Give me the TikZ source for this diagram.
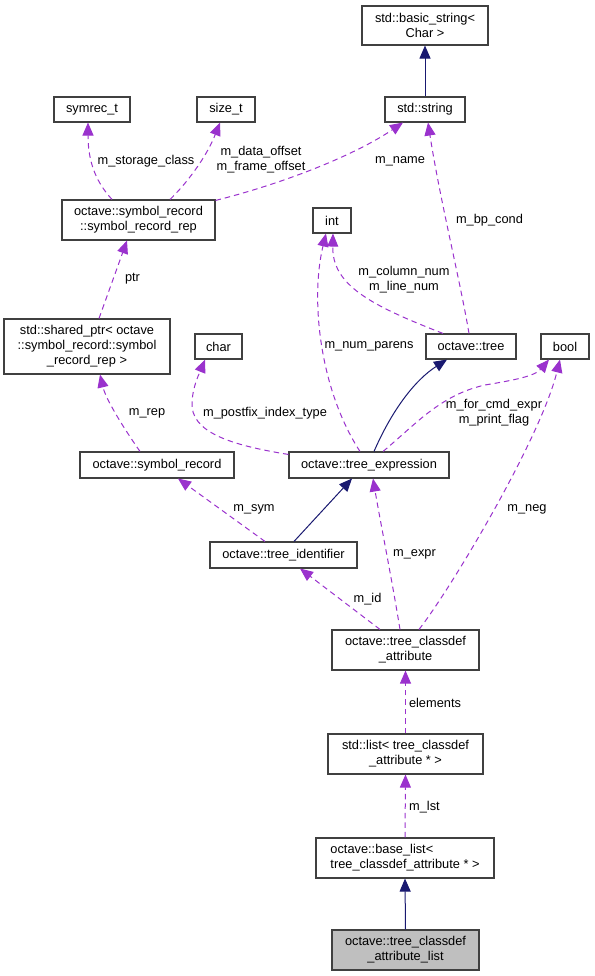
\documentclass[tikz,border=0pt]{standalone}
\usepackage{fontspec}
\setmainfont{Liberation Sans}
\usetikzlibrary{arrows.meta,calc}
\definecolor{edgepurple}{HTML}{9A32CD}
\definecolor{edgenavy}{HTML}{191970}
\definecolor{boxborder}{HTML}{404040}
\definecolor{boxgray}{HTML}{BFBFBF}
\begin{document}
\begin{tikzpicture}[x=1pt, y=-1pt, font=\fontsize{12.8}{15}\selectfont,
  box/.style={draw=boxborder, line width=1.1pt, fill=white, inner sep=0pt, align=center, minimum height=25pt},
  twoline/.style={box, minimum height=40pt},
  uses/.style={draw=edgepurple, line width=1pt, dash pattern=on 5.5pt off 4pt, -{Triangle[length=13pt, width=11pt, fill=edgepurple]}},
  inherits/.style={draw=edgenavy, line width=1pt, -{Triangle[length=13pt, width=11pt, fill=edgenavy]}},
  lbl/.style={inner sep=0pt, align=center}]
\useasboundingbox (0,0) rectangle (594,976);
% classes
\node[box, minimum width=126pt, minimum height=39pt] (bstr) at (425,25.5) {std::basic\_string<\\Char >};
\node[box, minimum width=76pt] (symrect) at (92,109.5) {symrec\_t};
\node[box, minimum width=58pt] (sizet) at (226,109.5) {size\_t};
\node[box, minimum width=80pt] (stdstr) at (425,109.5) {std::string};
\node[twoline, minimum width=153pt] (rep) at (138.5,220) {octave::symbol\_record\\::symbol\_record\_rep};
\node[box, minimum width=38pt] (int) at (332,220.5) {int};
\node[box, minimum width=166pt, minimum height=55pt] (shptr) at (87,346.5) {std::shared\_ptr< octave\\::symbol\_record::symbol\\\_record\_rep >};
\node[box, minimum width=47pt] (char) at (218.5,346.5) {char};
\node[box, minimum width=90pt] (tree) at (471,346.5) {octave::tree};
\node[box, minimum width=48pt] (bool) at (565,346.5) {bool};
\node[box, minimum width=154pt, minimum height=26pt] (symrec) at (157,465) {octave::symbol\_record};
\node[box, minimum width=160pt, minimum height=26pt] (texpr) at (369,465) {octave::tree\_expression};
\node[box, minimum width=147pt, minimum height=26pt] (tid) at (283.5,555) {octave::tree\_identifier};
\node[twoline, minimum width=147pt] (tca) at (405.5,650) {octave::tree\_classdef\\\_attribute};
\node[twoline, minimum width=155pt] (slist) at (405.5,754) {std::list< tree\_classdef\\\_attribute * >};
\node[twoline, minimum width=178pt, align=left] (blist) at (405,858) {octave::base\_list<\\ tree\_classdef\_attribute * >};
\node[twoline, minimum width=147pt, fill=boxgray] (tcal) at (405.5,950) {octave::tree\_classdef\\\_attribute\_list};
% inheritance
\draw[inherits] (stdstr.north) -- (bstr.south);
\draw[inherits] ([xshift=5pt]texpr.north) .. controls (392,410) and (415,380) .. ([xshift=-24pt]tree.south);
\draw[inherits] ([xshift=10.5pt]tid.north) -- ([xshift=-17pt]texpr.south);
\draw[inherits] (tcal.north) -- (blist.south);
% members
\draw[uses] ([xshift=-26.5pt]rep.north) .. controls (96,182) and (88,162) .. ([xshift=-4pt]symrect.south);
\draw[uses] ([xshift=31.5pt]rep.north) .. controls (186,184) and (206,158) .. ([xshift=-6pt]sizet.south);
\draw[uses] ([yshift=-1pt]rep.north east) .. controls (285,183) and (355,155) .. ([xshift=-22pt]stdstr.south);
\draw[uses] ([xshift=-2pt]tree.north) .. controls (460,280) and (440,200) .. ([xshift=3pt]stdstr.south);
\draw[uses] ([xshift=12pt]shptr.north) -- ([xshift=-11.5pt]rep.south);
\draw[uses] ([xshift=-17pt]symrec.north) .. controls (125,430) and (106,400) .. ([xshift=13pt]shptr.south);
\draw[uses] ([yshift=-3pt]texpr.north west) .. controls (230,445) and (190,432) .. (192,402) .. controls (193,385) and (200,372) .. ([xshift=-13.5pt]char.south);
\draw[uses] ([xshift=-9pt]texpr.north) .. controls (320,390) and (310,300) .. ([xshift=-6pt]int.south);
\draw[uses] ([xshift=-28pt]tree.north) .. controls (370,305) and (332,285) .. ([xshift=1pt]int.south);
\draw[uses] ([xshift=14pt]texpr.north) .. controls (415,425) and (440,395) .. (485,385) .. controls (515,380) and (535,376) .. ([xshift=-16pt]bool.south);
\draw[uses] ([xshift=13.5pt]tca.north) .. controls (450,590) and (540,440) .. ([xshift=-5pt]bool.south);
\draw[uses] ([xshift=-5.5pt]tca.north) .. controls (392,580) and (380,520) .. ([xshift=4pt]texpr.south);
\draw[uses] ([xshift=-25.5pt]tca.north) -- ([xshift=16.5pt]tid.south);
\draw[uses] ([xshift=-18.5pt]tid.north) -- ([xshift=21pt]symrec.south);
\draw[uses] (slist.north) -- (tca.south);
\draw[uses] (blist.north) -- (slist.south);
% member labels
\node[lbl] (lstorage) at (146,161) {m\_storage\_class};
\node[lbl] (loffset) at (261,160) {m\_data\_offset\\m\_frame\_offset};
\node[lbl] (lname) at (400,161) {m\_name};
\node[lbl] (lbpcond) at (489.5,220) {m\_bp\_cond};
\node[lbl] (lptr) at (132.5,279) {ptr};
\node[lbl] (lrep) at (147,413) {m\_rep};
\node[lbl] (lpostfix) at (265,413) {m\_postfix\_index\_type};
\node[lbl] (lparens) at (369,346) {m\_num\_parens};
\node[lbl] (lcolumn) at (404,279.5) {m\_column\_num\\m\_line\_num};
\node[lbl] (lflags) at (494,412.5) {m\_for\_cmd\_expr\\m\_print\_flag};
\node[lbl] (lneg) at (527,509) {m\_neg};
\node[lbl] (lsym) at (254,509) {m\_sym};
\node[lbl] (lexpr) at (414.5,554) {m\_expr};
\node[lbl] (lid) at (367.5,599) {m\_id};
\node[lbl] (lelements) at (435,703) {elements};
\node[lbl] (llst) at (424.5,807) {m\_lst};
\end{tikzpicture}
\end{document}
